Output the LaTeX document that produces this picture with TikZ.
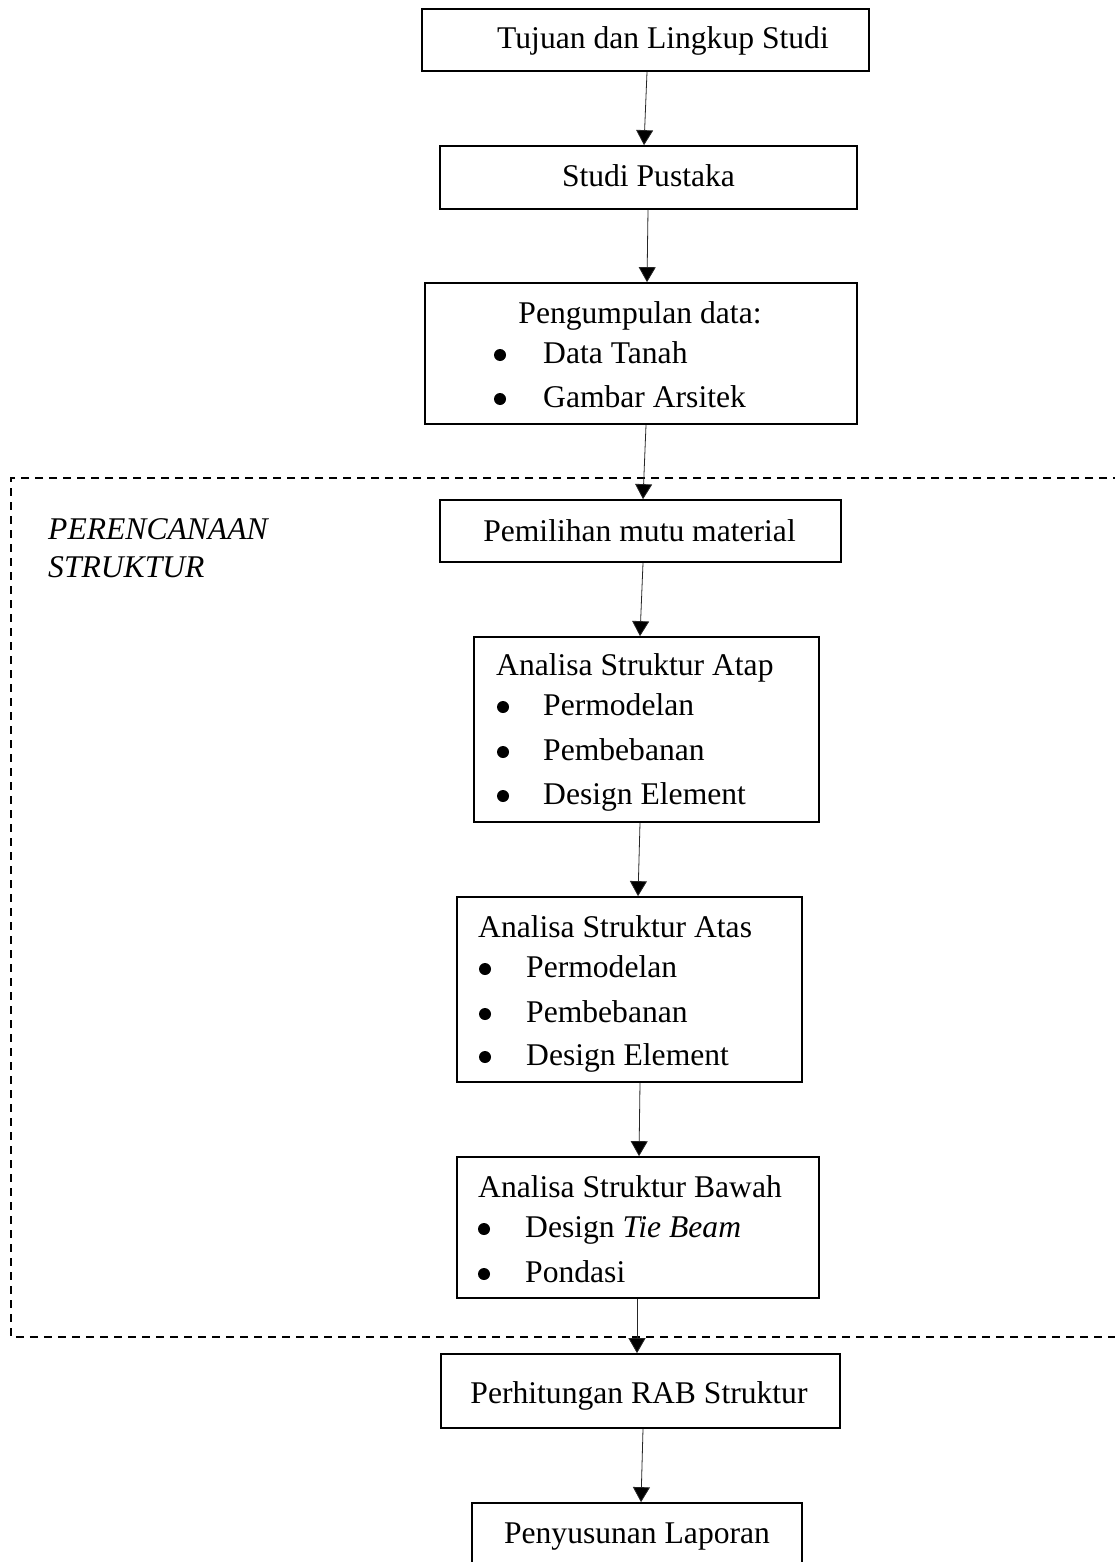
\documentclass[tikz,border=0pt]{standalone}
\usepackage{fontspec}
\setmainfont{Liberation Serif}
\usetikzlibrary{arrows.meta}
\tikzset{
  box/.style={draw=black, line width=1.7pt, inner sep=0pt, fill=none},
  txt/.style={inner sep=0pt, anchor=base, font=\fontsize{31.6}{38}\selectfont},
  txtw/.style={inner sep=0pt, anchor=base west, font=\fontsize{31.6}{38}\selectfont},
  bul/.style={circle, fill=black, inner sep=0pt, minimum size=12pt},
  arr/.style={draw=black!85, line width=0.8pt, -{Triangle[width=17pt,length=15pt,fill=black]}},
  frame/.style={draw=black, line width=1.6pt, dash pattern=on 8pt off 6pt}
}
\begin{document}
\begin{tikzpicture}[x=1pt,y=-1pt]
\useasboundingbox (0,0) rectangle (1114,1562);
% dashed frame
\draw[frame] (1135,478) -- (11,478) -- (11,1337) -- (1135,1337);
\node[txtw, font=\fontsize{31.6}{38}\selectfont\itshape] (lab1) at (48,539) {PERENCANAAN};
\node[txtw, font=\fontsize{31.6}{38}\selectfont\itshape] (lab2) at (48,577) {STRUKTUR};

% boxes
\node[box, minimum width=447pt, minimum height=62pt] (tujuan) at (645.5,40) {};
\node[box, minimum width=417pt, minimum height=63pt] (studi) at (648.5,177.5) {};
\node[box, minimum width=432pt, minimum height=141pt] (peng) at (641,353.5) {};
\node[box, minimum width=401pt, minimum height=62pt] (pemilihan) at (640.5,531) {};
\node[box, minimum width=345pt, minimum height=185pt] (atap) at (646.5,729.5) {};
\node[box, minimum width=345pt, minimum height=185pt] (atas) at (629.5,989.5) {};
\node[box, minimum width=362pt, minimum height=141pt] (bawah) at (638,1227.5) {};
\node[box, minimum width=399pt, minimum height=74pt] (rab) at (640.5,1391) {};
\node[box, minimum width=330pt, minimum height=62pt] (laporan) at (637,1534) {};

% texts
\node[txt] (t1) at (663,49) {Tujuan dan Lingkup Studi};
\node[txt] (t2) at (648.5,187) {Studi Pustaka};
\node[txt] (t3) at (640,323) {Pengumpulan data:};
\node[bul] (b31) at (500,355) {};
\node[txtw] (t31) at (543,363) {Data Tanah};
\node[bul] (b32) at (500,399) {};
\node[txtw] (t32) at (543,407) {Gambar Arsitek};
\node[txt] (t4) at (639.5,541) {Pemilihan mutu material};

\node[txtw] (t5) at (496,675) {Analisa Struktur Atap};
\node[bul] (b51) at (503,707) {};
\node[txtw] (t51) at (543,715) {Permodelan};
\node[bul] (b52) at (503,752) {};
\node[txtw] (t52) at (543,760) {Pembebanan};
\node[bul] (b53) at (503,796) {};
\node[txtw] (t53) at (543,804) {Design Element};

\node[txtw] (t6) at (478,937) {Analisa Struktur Atas};
\node[bul] (b61) at (485,969) {};
\node[txtw] (t61) at (526,977) {Permodelan};
\node[bul] (b62) at (485,1014) {};
\node[txtw] (t62) at (526,1022) {Pembebanan};
\node[bul] (b63) at (485,1057) {};
\node[txtw] (t63) at (526,1065) {Design Element};

\node[txtw] (t7) at (478,1197) {Analisa Struktur Bawah};
\node[bul] (b71) at (484,1229) {};
\node[txtw] (t71) at (525,1237) {Design \textit{Tie Beam}};
\node[bul] (b72) at (484,1274) {};
\node[txtw] (t72) at (525,1282) {Pondasi};

\node[txt] (t8) at (639,1403) {Perhitungan RAB Struktur};
\node[txt] (t9) at (637,1543) {Penyusunan Laporan};

% arrows
\draw[arr] ([xshift=1.5pt]tujuan.south) -- ([xshift=-4.5pt]studi.north);
\draw[arr] ([xshift=-0.5pt]studi.south) -- ([xshift=6pt]peng.north);
\draw[arr] ([xshift=5pt]peng.south) -- ([xshift=2.5pt]pemilihan.north);
\draw[arr] ([xshift=2.5pt]pemilihan.south) -- ([xshift=-6.5pt]atap.north);
\draw[arr] ([xshift=-6.5pt]atap.south) -- ([xshift=8.5pt]atas.north);
\draw[arr] ([xshift=10.5pt]atas.south) -- ([xshift=1pt]bawah.north);
\draw[arr] ([xshift=-1pt]bawah.south) -- ([xshift=-3.5pt]rab.north);
\draw[arr] ([xshift=2.5pt]rab.south) -- ([xshift=4pt]laporan.north);
\end{tikzpicture}
\end{document}
